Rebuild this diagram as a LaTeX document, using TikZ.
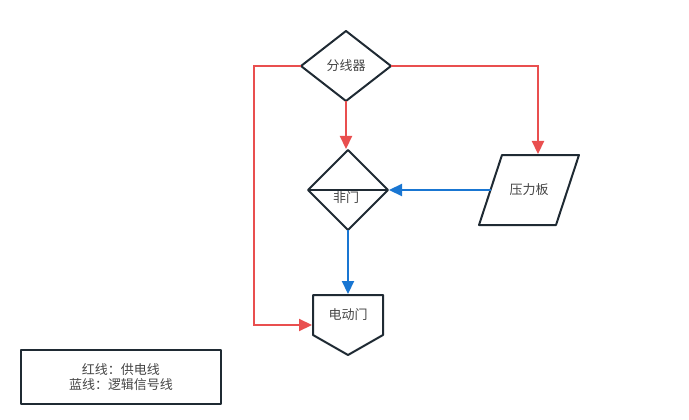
\documentclass[tikz,border=0pt]{standalone}
\usepackage{fontspec}
\setmainfont{Noto Sans CJK SC}
\usetikzlibrary{shapes.geometric,arrows.meta,calc}
\definecolor{ink}{HTML}{1F2A33}
\definecolor{txt}{HTML}{444444}
\definecolor{redline}{HTML}{E94F4F}
\definecolor{blueline}{HTML}{1976D2}
\tikzset{
  x=1pt,y=-1pt,
  outl/.style={draw=ink,line width=2pt,line join=round,outer sep=0pt,inner sep=0pt,text=txt,font=\fontsize{13}{16}\selectfont},
  diam/.style={outl,diamond},
  label text/.style={inner sep=0pt,outer sep=0pt,text=txt,font=\fontsize{13}{16}\selectfont,align=center},
  contour/.style={draw=ink,line width=2pt,line join=round},
  wire/.style={line width=2.2pt,-{Triangle[length=13pt,width=12pt]},shorten >=1pt},
  redwire/.style={wire,draw=redline,color=redline},
  bluewire/.style={wire,draw=blueline,color=blueline},
}
\begin{document}
\begin{tikzpicture}
\useasboundingbox (0,0) rectangle (689,420);
\node[diam,shape aspect=1.2857,minimum width=90pt,minimum height=70pt] (split) at (346,66) {分线器};
\node[diam,shape aspect=1,minimum width=80pt,minimum height=80pt] (notgate) at (348,190) {};
\draw[contour] (notgate.west) -- (notgate.east);
\node[label text] (notlabel) at (346,198) {非门};
\node[label text,minimum width=100pt,minimum height=70pt] (press) at (529,190) {压力板};
\draw[contour] ($(press.north west)+(23,0)$) -- (press.north east) -- ($(press.south east)+(-23,0)$) -- (press.south west) -- cycle;
\coordinate (pressin) at (538,155);
\coordinate (pressout) at (491,190);
\node[label text,minimum width=70pt,minimum height=40pt] (door) at (348,315) {电动门};
\draw[contour] (door.south west) -- (door.north west) -- (door.north east) -- (door.south east) -- ($(door.south)+(0,20)$) -- cycle;
\coordinate (doorin) at (313,325);
\node[outl,minimum width=200pt,minimum height=54pt,align=center] (legend) at (121,377) {红线：供电线\\[-0.5pt]蓝线：逻辑信号线};
\coordinate (bend) at (254,66);
\draw[redwire] (split.west) -- (bend) |- (doorin);
\draw[redwire] (split.south) -- (split.south |- notgate.north);
\draw[redwire] (split.east) -| (pressin);
\draw[bluewire] (pressout) -- (notgate.east);
\draw[bluewire] (notgate.south) -- (door.north);
\end{tikzpicture}
\end{document}
